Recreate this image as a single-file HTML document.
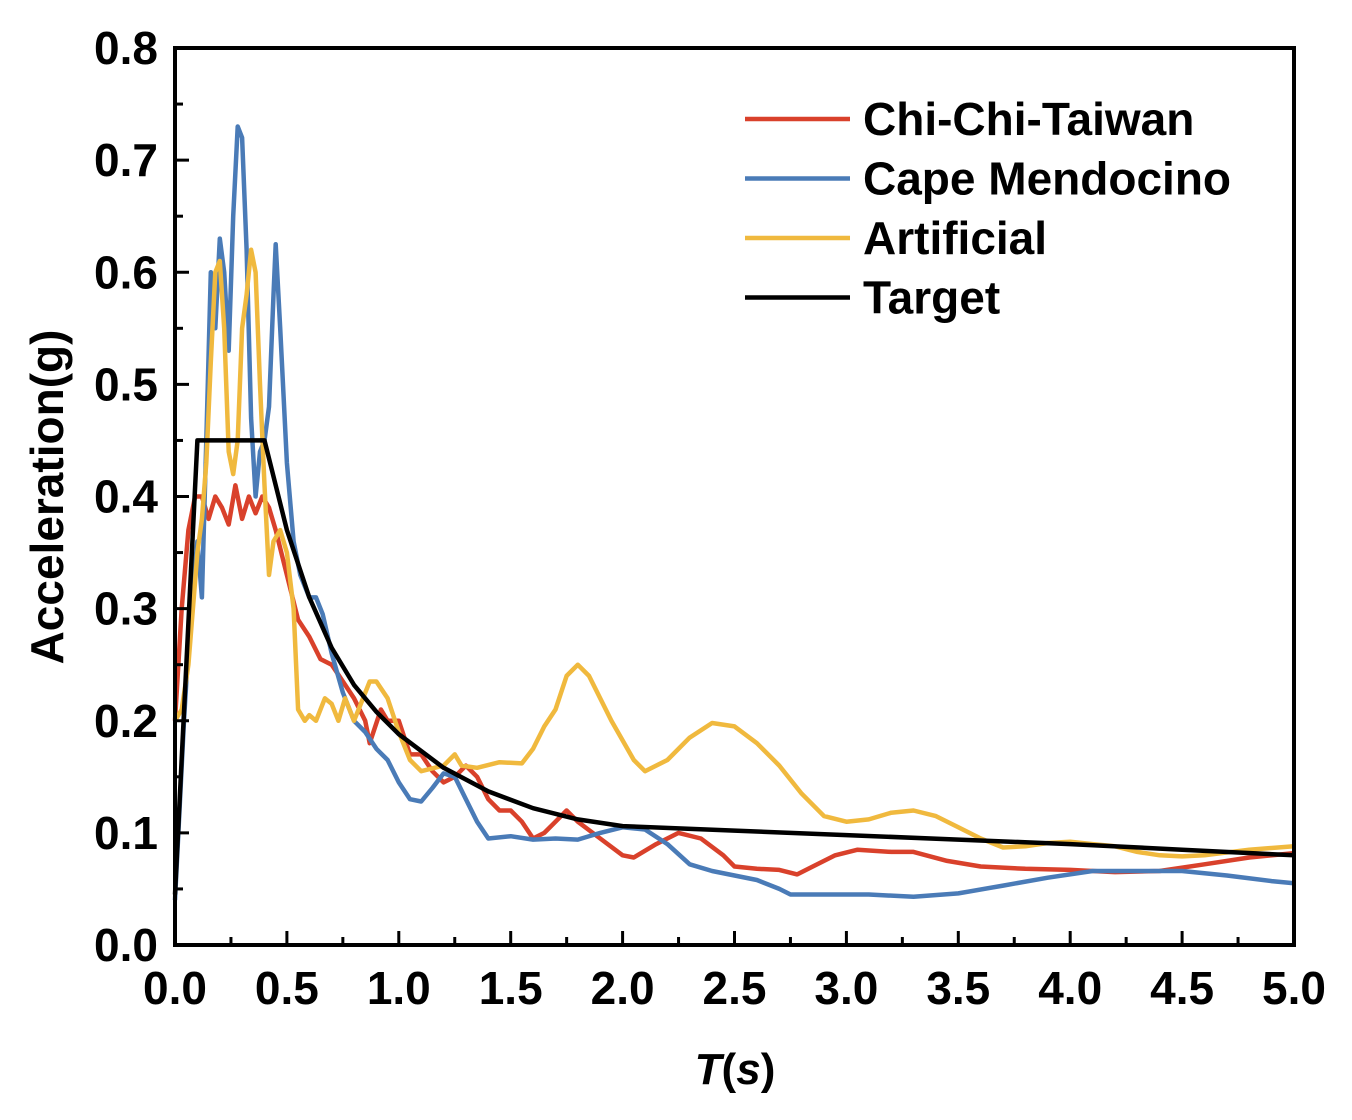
<!DOCTYPE html>
<html><head><meta charset="utf-8"><style>
body{margin:0;background:#fff}
svg text{font-family:"Liberation Sans",Arial,sans-serif;font-weight:bold}
</style></head><body>
<svg id="chart" width="1352" height="1115" xmlns="http://www.w3.org/2000/svg">
<g id="plot"></g>
</svg>
<script>
const xTicks=[0,0.5,1.0,1.5,2.0,2.5,3.0,3.5,4.0,4.5,5.0];
const yTicks=[0,0.1,0.2,0.3,0.4,0.5,0.6,0.7,0.8];
const seriesNames=["Chi-Chi-Taiwan","Cape Mendocino","Artificial","Target"];
const chiChiT=[0,0.03,0.06,0.09,0.12,0.15,0.18,0.21,0.24,0.27,0.3,0.33,0.36,0.39,0.42,0.45,0.5,0.55,0.6,0.65,0.7,0.75,0.8,0.85,0.87,0.92,0.95,1.0,1.05,1.1,1.15,1.2,1.25,1.3,1.35,1.4,1.45,1.5,1.55,1.6,1.65,1.7,1.75,1.8,1.9,2.0,2.05,2.15,2.25,2.35,2.45,2.5,2.6,2.7,2.78,2.85,2.95,3.05,3.2,3.3,3.45,3.6,3.8,4.0,4.2,4.4,4.6,4.8,5.0];
const chiChiA=[0.2,0.3,0.37,0.4,0.4,0.38,0.4,0.39,0.375,0.41,0.38,0.4,0.385,0.4,0.39,0.37,0.33,0.29,0.275,0.255,0.25,0.235,0.22,0.2,0.18,0.21,0.2,0.2,0.17,0.17,0.155,0.145,0.15,0.16,0.15,0.13,0.12,0.12,0.11,0.095,0.1,0.11,0.12,0.11,0.095,0.08,0.078,0.09,0.1,0.095,0.08,0.07,0.068,0.067,0.063,0.07,0.08,0.085,0.083,0.083,0.075,0.07,0.068,0.067,0.065,0.066,0.072,0.078,0.082];
const capeT=[0,0.04,0.07,0.1,0.12,0.14,0.16,0.18,0.2,0.22,0.24,0.26,0.28,0.3,0.32,0.34,0.36,0.38,0.4,0.42,0.44,0.45,0.47,0.5,0.53,0.56,0.6,0.63,0.66,0.7,0.75,0.8,0.85,0.9,0.95,1.0,1.05,1.1,1.15,1.2,1.25,1.3,1.35,1.4,1.5,1.6,1.7,1.8,1.9,2.0,2.1,2.2,2.3,2.4,2.5,2.6,2.7,2.75,2.9,3.1,3.3,3.5,3.7,3.9,4.1,4.3,4.5,4.7,4.9,5.0];
const capeA=[0.04,0.2,0.3,0.36,0.31,0.45,0.6,0.55,0.63,0.6,0.53,0.65,0.73,0.72,0.62,0.47,0.4,0.44,0.45,0.48,0.58,0.625,0.55,0.43,0.36,0.33,0.31,0.31,0.295,0.26,0.225,0.2,0.19,0.175,0.165,0.145,0.13,0.128,0.14,0.153,0.15,0.13,0.11,0.095,0.097,0.094,0.095,0.094,0.1,0.105,0.103,0.09,0.072,0.066,0.062,0.058,0.05,0.045,0.045,0.045,0.043,0.046,0.053,0.06,0.066,0.066,0.066,0.062,0.057,0.055];
const artT=[0,0.03,0.06,0.08,0.1,0.12,0.14,0.16,0.18,0.2,0.22,0.24,0.26,0.28,0.3,0.32,0.34,0.36,0.38,0.4,0.42,0.44,0.47,0.5,0.53,0.55,0.58,0.6,0.63,0.67,0.7,0.73,0.76,0.8,0.83,0.87,0.9,0.95,1.0,1.05,1.1,1.2,1.25,1.28,1.35,1.45,1.55,1.6,1.65,1.7,1.75,1.8,1.85,1.95,2.05,2.1,2.2,2.3,2.4,2.5,2.6,2.7,2.8,2.9,3.0,3.1,3.2,3.3,3.4,3.5,3.6,3.7,3.8,3.9,4.0,4.1,4.2,4.3,4.4,4.5,4.6,4.8,5.0];
const artA=[0.2,0.21,0.25,0.3,0.35,0.38,0.43,0.52,0.6,0.61,0.55,0.44,0.42,0.45,0.55,0.58,0.62,0.6,0.5,0.41,0.33,0.36,0.37,0.35,0.3,0.21,0.2,0.205,0.2,0.22,0.215,0.2,0.22,0.2,0.215,0.235,0.235,0.22,0.19,0.165,0.155,0.16,0.17,0.16,0.158,0.163,0.162,0.175,0.195,0.21,0.24,0.25,0.24,0.2,0.165,0.155,0.165,0.185,0.198,0.195,0.18,0.16,0.135,0.115,0.11,0.112,0.118,0.12,0.115,0.105,0.095,0.087,0.088,0.091,0.092,0.09,0.088,0.083,0.08,0.079,0.08,0.085,0.088];
const targetT=[0,0.1,0.4,0.5,0.6,0.7,0.8,0.9,1.0,1.2,1.4,1.6,1.8,2.0,2.5,3.0,3.5,4.0,4.5,5.0];
const targetA=[0.045,0.45,0.45,0.37,0.31,0.265,0.232,0.208,0.188,0.158,0.137,0.122,0.112,0.106,0.102,0.098,0.094,0.09,0.085,0.08];

const X0=175,X1=1294,Y0=945,Y1=48;
const sx=v=>X0+(v/5)*(X1-X0);
const sy=v=>Y0-(v/0.8)*(Y0-Y1);
const NS="http://www.w3.org/2000/svg";
const g=document.getElementById('plot');
function mk(tag,attrs){const e=document.createElementNS(NS,tag);for(const k in attrs)e.setAttribute(k,attrs[k]);g.appendChild(e);return e;}
function line(T,A,color,name,w){
  const d=T.map((t,i)=>(i?'L':'M')+sx(t).toFixed(1)+','+sy(A[i]).toFixed(1)).join('');
  const p=mk('path',{d:d,fill:'none',stroke:color,'stroke-width':w,'stroke-linejoin':'round'});
  
  
}
line(chiChiT,chiChiA,'#d9412b','series-chi-chi-taiwan',4.5);
line(capeT,capeA,'#4a7bb7','series-cape-mendocino',4.5);
line(artT,artA,'#f0b93e','series-artificial',4.5);
line(targetT,targetA,'#000','series-target',4.5);
for(let i=0;i<=20;i++){const v=i*0.25;const major=i%2==0;
  const t=mk('line',{x1:sx(v),x2:sx(v),y1:Y0,y2:Y0-(major?14:8),stroke:'#000','stroke-width':3});
  }
for(let i=0;i<=16;i++){const v=i*0.05;const major=i%2==0;
  const t=mk('line',{x1:X0,x2:X0+(major?14:8),y1:sy(v),y2:sy(v),stroke:'#000','stroke-width':3});
  }
xTicks.forEach(v=>{const t=mk('text',{x:sx(v),y:1004,'font-size':46,'text-anchor':'middle'});t.textContent=v.toFixed(1);
  });
yTicks.forEach(v=>{const t=mk('text',{x:158,y:sy(v)+16,'font-size':46,'text-anchor':'end'});t.textContent=v.toFixed(1);
  });
const fr=mk('rect',{x:X0,y:Y1,width:X1-X0,height:Y0-Y1,fill:'none',stroke:'#000','stroke-width':4});

const xt=mk('text',{x:735,y:1084,'font-size':44,'text-anchor':'middle','font-style':'italic'});
xt.innerHTML='T<tspan font-style="normal">(</tspan>s<tspan font-style="normal">)</tspan>';

const yt=mk('text',{x:0,y:0,'font-size':46,'text-anchor':'middle',transform:'translate(63,497) rotate(-90)'});
yt.textContent='Acceleration(g)';

const colors=['#d9412b','#4a7bb7','#f0b93e','#000'];
seriesNames.forEach((n,i)=>{const y=119+i*59.5;
  const l=mk('line',{x1:745,x2:850,y1:y,y2:y,stroke:colors[i],'stroke-width':4.5});
  
  const t=mk('text',{x:863,y:y+16,'font-size':46});t.textContent=n;
  });
</script>
</body></html>
